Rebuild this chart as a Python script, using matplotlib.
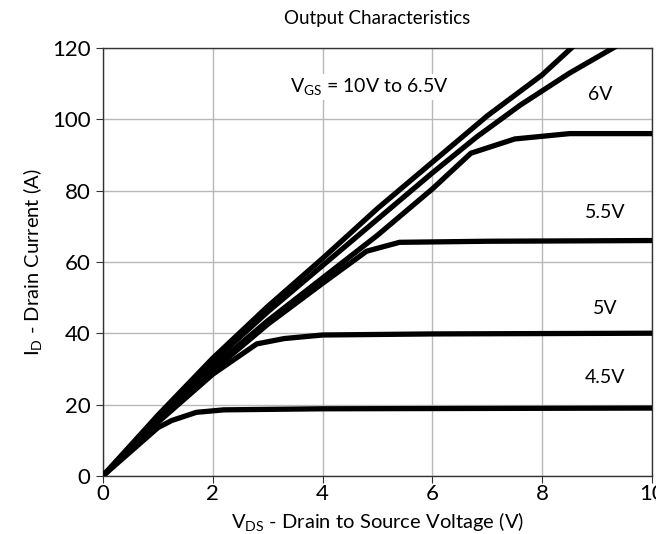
import matplotlib
matplotlib.use('Agg')
import matplotlib.pyplot as plt

plt.rcParams['font.family'] = ['Lato', 'DejaVu Sans']
plt.rcParams['mathtext.fontset'] = 'custom'
plt.rcParams['mathtext.rm'] = 'Lato'

# V_DS (V) / I_D (A) for each gate voltage
vds_10v = [0, 1, 2, 3, 4, 5, 6, 7, 8, 8.6]
id_10v = [0, 17, 33, 47.5, 61, 75, 88, 101, 112.5, 121]

vds_65v = [0, 1, 2, 3, 4, 5, 6, 6.8, 7.6, 8.5, 9.4]
id_65v = [0, 16.5, 32, 46, 59, 72, 85, 95, 104, 113, 121]

vds_6v = [0, 1, 2, 3, 4, 5, 6, 6.7, 7.5, 8.5, 10]
id_6v = [0, 16, 30.5, 43.5, 55.5, 67.5, 80.5, 90.5, 94.5, 96, 96]

vds_55v = [0, 1, 2, 3, 4, 4.8, 5.4, 7, 10]
id_55v = [0, 15.5, 29.5, 42.5, 54, 63, 65.5, 65.8, 66]

vds_5v = [0, 1, 2, 2.8, 3.3, 4, 6, 10]
id_5v = [0, 15, 28.5, 37, 38.5, 39.5, 39.8, 40]

vds_45v = [0, 1, 1.25, 1.7, 2.2, 4, 10]
id_45v = [0, 13.5, 15.5, 17.8, 18.5, 18.8, 19]

curves = [(vds_10v, id_10v), (vds_65v, id_65v), (vds_6v, id_6v),
          (vds_55v, id_55v), (vds_5v, id_5v), (vds_45v, id_45v)]

fig = plt.figure(figsize=(6.56, 5.34), dpi=100)
ax = fig.add_axes([0.157, 0.109, 0.837, 0.801])

for x, y in curves:
    ax.plot(x, y, color='black', linewidth=3.8, solid_joinstyle='round',
            solid_capstyle='butt', zorder=3)

ax.set_xlim(0, 10)
ax.set_ylim(0, 120)
ax.set_xticks([0, 2, 4, 6, 8, 10])
ax.set_yticks([0, 20, 40, 60, 80, 100, 120])
ax.grid(True, color='#b8b8b8', linewidth=1.0)
ax.set_axisbelow(True)
for s in ax.spines.values():
    s.set_color('#333333')
    s.set_linewidth(1.0)
ax.tick_params(labelsize=16, length=5, color='#333333')
ax.tick_params(axis='y', pad=4)
ax.tick_params(axis='x', pad=1)

box = dict(facecolor='white', edgecolor='none', pad=1.5)
ax.text(4.85, 109, r'V$_{\mathregular{GS}}$ = 10V to 6.5V', fontsize=14,
        ha='center', va='center', bbox=box, zorder=4)
ax.text(9.05, 107, '6V', fontsize=14, ha='center', va='center', bbox=box, zorder=4)
ax.text(9.15, 74, '5.5V', fontsize=14, ha='center', va='center', bbox=box, zorder=4)
ax.text(9.15, 47, '5V', fontsize=14, ha='center', va='center', bbox=box, zorder=4)
ax.text(9.15, 27.5, '4.5V', fontsize=14, ha='center', va='center', bbox=box, zorder=4)

ax.set_title('Output Characteristics', fontsize=13.5, pad=17)
ax.set_xlabel(r'V$_{\mathregular{DS}}$ - Drain to Source Voltage (V)', fontsize=14.5, labelpad=5)
ax.set_ylabel(r'I$_{\mathregular{D}}$ - Drain Current (A)', fontsize=14.5, labelpad=5)

fig.savefig('out.png', dpi=100)
